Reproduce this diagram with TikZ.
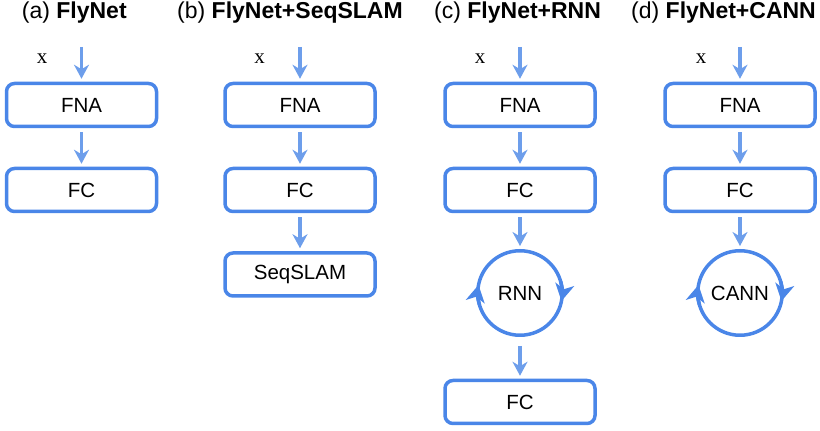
\documentclass[tikz,border=0pt]{standalone}
\usepackage{fontspec}
\setmainfont{Liberation Sans}
\newfontfamily\serifx{Liberation Serif}
\usetikzlibrary{arrows.meta,calc}
\definecolor{boxblue}{HTML}{4A86E8}
\definecolor{arrblue}{HTML}{6D9EEB}
\begin{document}
\begin{tikzpicture}[x=1pt,y=1pt,
  blk/.style={draw=boxblue, line width=3.5pt, rounded corners=8pt, minimum width=150pt, minimum height=43pt, font=\fontsize{20.5}{24}\selectfont, inner sep=0pt},
  loopnode/.style={circle, draw=boxblue, line width=3.5pt, minimum size=84.5pt, font=\fontsize{20.5}{24}\selectfont, inner sep=0pt},
  flow/.style={draw=arrblue, line width=3.2pt, -{Stealth[length=14pt,width=15pt,inset=4.5pt]}, shorten <=4pt, shorten >=3pt},
  loopar/.style={draw=boxblue, line width=3.5pt, -{Stealth[length=17pt,width=19pt,inset=5pt]}},
  ttl/.style={anchor=base west, inner sep=0pt, font=\fontsize{23}{27}\selectfont},
  inlbl/.style={font=\serifx\fontsize{21}{25}\selectfont}
]
\useasboundingbox (0,0) rectangle (820,431);

% titles
\node[ttl] (ta) at (21.7,412) {(a) \textbf{FlyNet}};
\node[ttl] (tb) at (177,412) {(b) \textbf{FlyNet+SeqSLAM}};
\node[ttl] (tc) at (434,412) {(c) \textbf{FlyNet+RNN}};
\node[ttl] (td) at (631,412) {(d) \textbf{FlyNet+CANN}};

% column a
\coordinate (ina) at (81.5,384);
\node[inlbl] (xa) at (42,372) {x};
\node[blk] (fnaa) at (81.5,326) {FNA};
\node[blk] (fca) at (81.5,241) {FC};
\draw[flow, shorten <=0pt] (ina) -- (fnaa.north);
\draw[flow] (fnaa) -- (fca);

% column b
\coordinate (inb) at (300,384);
\node[inlbl] (xb) at (259.5,372) {x};
\node[blk] (fnab) at (300,326) {FNA};
\node[blk] (fcb) at (300,241) {FC};
\node[blk] (seqb) at (300,156.5) {SeqSLAM};
\draw[flow, shorten <=0pt] (inb) -- (fnab.north);
\draw[flow] (fnab) -- (fcb);
\draw[flow] (fcb) -- (seqb);

% column c
\coordinate (inc) at (520,384);
\node[inlbl] (xc) at (480,372) {x};
\node[blk] (fnac) at (520,326) {FNA};
\node[blk] (fcc) at (520,241) {FC};
\node[loopnode] (rnn) at (520,138) {RNN};
\node[blk] (fc2c) at (520,29) {FC};
\draw[flow, shorten <=0pt] (inc) -- (fnac.north);
\draw[flow] (fnac) -- (fcc);
\draw[flow] (fcc) -- (rnn);
\draw[flow, shorten <=9pt] (rnn) -- (fc2c);
\draw[loopar] ($(rnn.center)+(16:42.25)$) arc[start angle=16, end angle=-11, radius=42.25];
\draw[loopar] ($(rnn.center)+(196:42.25)$) arc[start angle=196, end angle=169, radius=42.25];

% column d
\coordinate (ind) at (740,384);
\node[inlbl] (xd) at (701,372) {x};
\node[blk] (fnad) at (740,326) {FNA};
\node[blk] (fcd) at (740,241) {FC};
\node[loopnode] (cann) at (740,138) {CANN};
\draw[flow, shorten <=0pt] (ind) -- (fnad.north);
\draw[flow] (fnad) -- (fcd);
\draw[flow] (fcd) -- (cann);
\draw[loopar] ($(cann.center)+(16:42.25)$) arc[start angle=16, end angle=-11, radius=42.25];
\draw[loopar] ($(cann.center)+(196:42.25)$) arc[start angle=196, end angle=169, radius=42.25];
\end{tikzpicture}
\end{document}
